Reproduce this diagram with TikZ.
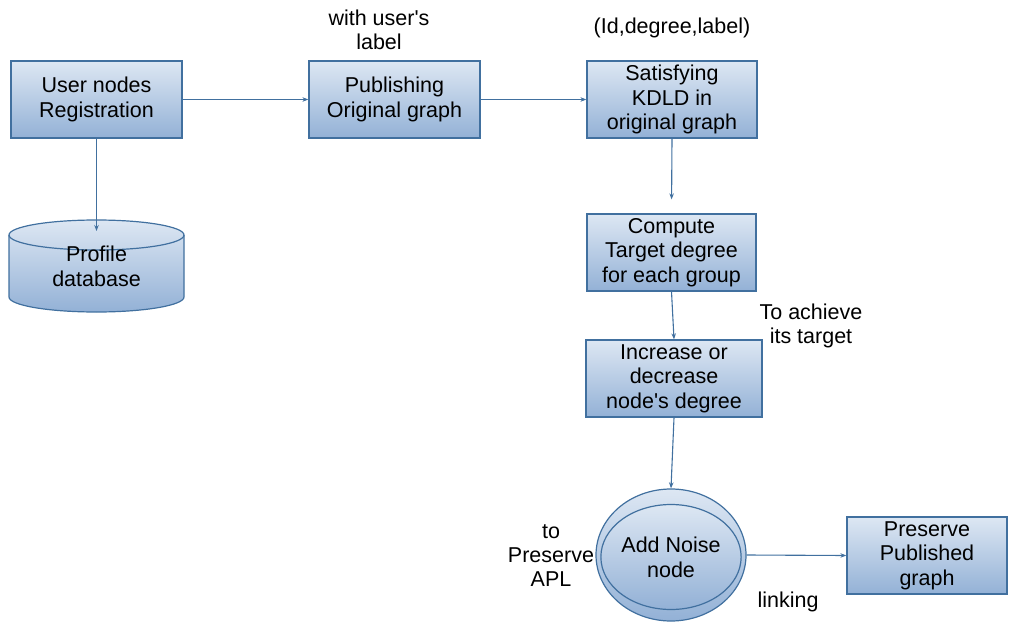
\documentclass[tikz,border=0pt]{standalone}
\usepackage{fontspec}
\setmainfont{Liberation Sans}
\usetikzlibrary{shapes.geometric,arrows.meta}
\definecolor{edge}{HTML}{41709F}
\definecolor{topc}{HTML}{DDE7F3}
\definecolor{botc}{HTML}{93B1D6}
\tikzset{
  procbox/.style={draw=edge, line width=1.2pt, top color=topc, bottom color=botc,
    align=center, inner sep=0pt, font=\fontsize{21.5}{24.5}\selectfont},
  plain/.style={align=center, inner sep=0pt, font=\fontsize{21.5}{24}\selectfont},
  conn/.style={draw=edge, line width=1.1pt, -{Stealth[length=6pt,width=4.5pt]}},
}
\begin{document}
\begin{tikzpicture}[x=1pt,y=1pt]
\useasboundingbox (0,0) rectangle (1009,-623);
% boxes
\node[procbox, minimum width=171pt, minimum height=77pt] (reg) at (96.5,-99.5) {User nodes\\Registration};
\node[procbox, minimum width=171pt, minimum height=77pt] (pub) at (394.5,-99.5) {Publishing\\Original graph};
\node[procbox, minimum width=170pt, minimum height=77pt] (sat) at (672,-99.5) {Satisfying\\KDLD in\\original graph};
\node[procbox, minimum width=169pt, minimum height=77pt] (comp) at (671.5,-252.5) {Compute\\Target degree\\for each group};
\node[procbox, minimum width=176pt, minimum height=77pt] (inc) at (674,-378.5) {Increase or\\decrease\\node\textquotesingle s degree};
\node[procbox, minimum width=160pt, minimum height=77pt] (pres) at (927,-555.5) {Preserve\\Published\\graph};
% cylinder
\path[draw=edge, line width=1.2pt, top color=topc, bottom color=botc]
  (9,-235) -- (9,-297) arc[start angle=180, end angle=360, x radius=87.5pt, y radius=15pt]
  -- (184,-235) arc[start angle=0, end angle=180, x radius=87.5pt, y radius=15pt] -- cycle;
\draw[edge, line width=1.2pt] (9,-235) arc[start angle=180, end angle=360, x radius=87.5pt, y radius=15pt];
\coordinate (dbtop) at (96.5,-231);
\node[plain, font=\fontsize{21.5}{25}\selectfont] (db) at (96.5,-266.5) {Profile\\database};
% double ellipse
\node[ellipse, draw=edge, line width=1.2pt, top color=topc, bottom color=botc,
  minimum width=150pt, minimum height=132pt, inner sep=0pt] (noise) at (671,-555) {};
\node[ellipse, draw=edge, line width=1.2pt, top color=topc, bottom color=botc,
  minimum width=120pt, minimum height=105pt, inner sep=0pt, align=center,
  font=\fontsize{21.5}{25}\selectfont] (noisein) at (671,-557) {Add Noise\\node};
% labels
\node[plain] (l1) at (379,-30) {with user\textquotesingle s\\label};
\node[plain] (l2) at (672,-28) {(Id,degree,label)};
\node[plain] (l3) at (811,-326) {To achieve\\its target};
\node[plain] (l4) at (551,-556) {to\\Preserve\\APL};
\node[plain] (l5) at (788,-602) {linking};
% connectors
\draw[conn] (reg.east) -- (pub.west);
\draw[conn] (pub.east) -- (sat.west);
\draw[conn] (reg.south) -- (dbtop);
\draw[conn, shorten >=14pt] (sat.south) -- (comp.north);
\draw[conn] (comp.south) -- (inc.north);
\draw[conn] (inc.south) -- (noise.north);
\draw[conn] (noise.east) -- (pres.west);
\end{tikzpicture}
\end{document}
